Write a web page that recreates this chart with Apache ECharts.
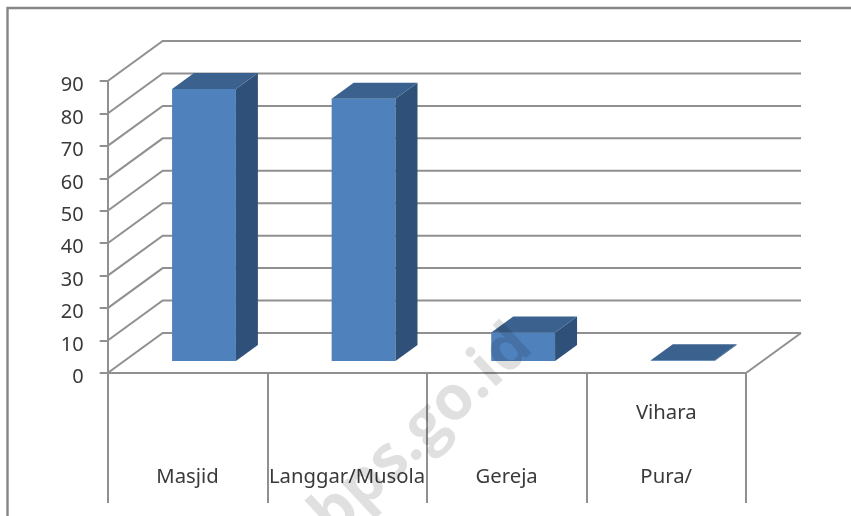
<!DOCTYPE html>
<html><head><meta charset="utf-8">
<style>html,body{margin:0;padding:0;background:#fff}#c{width:851px;height:516px}</style>
<script src="https://cdn.jsdelivr.net/npm/echarts@6/dist/echarts.min.js"></script>
</head><body><div id="c"></div>
<script>
const categories = ['Masjid', 'Langgar/Musola', 'Gereja', 'Vihara\nPura/'];
const values = [83.8, 80.8, 8.8, 0.2];
const yTicks = [0, 10, 20, 30, 40, 50, 60, 70, 80, 90];

const FONT = '"Noto Sans"';
const TXT = '#3a3a3a';
const LINE = '#909090';
const WALL = [55, -40];      // depth of the back wall
const BAR_D = [22, -16];     // depth of a bar
const BAR_O = [16.5, -12];   // bar placement inside the floor

const chart = echarts.init(document.getElementById('c'), null, {renderer: 'canvas'});

function wallItem(params, api) {
  const p = api.coord([0, api.value(1)]);
  const band = api.size([1, 0])[0];
  const x0 = p[0] - band / 2, y = p[1];
  const x1 = x0 + band * categories.length;
  const children = [{
    type: 'polyline',
    shape: {points: [[x0, y], [x0 + WALL[0], y + WALL[1]], [x1 + WALL[0], y + WALL[1]]]},
    style: {stroke: LINE, lineWidth: 2, fill: null}
  }];
  if (api.value(1) === 0) {
    children.push({
      type: 'line',
      shape: {x1: x1, y1: y, x2: x1 + WALL[0], y2: y + WALL[1]},
      style: {stroke: LINE, lineWidth: 2}
    });
  }
  return {type: 'group', children};
}

function barItem(params, api) {
  const top = api.coord([api.value(0), api.value(1)]);
  const base = api.coord([api.value(0), 0]);
  const band = api.size([1, 0])[0];
  const w = band * 0.4;
  const xl = top[0] - w / 2 + BAR_O[0], xr = xl + w;
  const yt = top[1] + BAR_O[1], yb = base[1] + BAR_O[1];
  const dx = BAR_D[0], dy = BAR_D[1];
  return {type: 'group', children: [
    {type: 'rect', shape: {x: xl, y: yt, width: w, height: yb - yt},
      style: {fill: '#4f81bd'}},
    {type: 'polygon', shape: {points: [[xr, yt], [xr + dx, yt + dy], [xr + dx, yb + dy], [xr, yb]]},
      style: {fill: '#2f5179'}},
    {type: 'polygon', shape: {points: [[xl, yt], [xl + dx, yt + dy], [xr + dx, yt + dy], [xr, yt]]},
      style: {fill: '#3b628f'}}
  ]};
}

chart.setOption({
  animation: false,
  backgroundColor: '#fff',
  grid: {left: 107.7, right: 105, top: 81, bottom: 143, containLabel: false},
  xAxis: {
    type: 'category',
    data: categories,
    boundaryGap: true,
    axisLine: {show: true, lineStyle: {color: LINE, width: 2}},
    axisTick: {show: true, length: 130, lineStyle: {color: LINE, width: 2}},
    axisLabel: {
      interval: 0,
      margin: 136,
      verticalAlign: 'bottom',
      lineHeight: 64,
      fontFamily: FONT,
      fontSize: 20.3,
      color: TXT
    },
    splitLine: {show: false}
  },
  yAxis: {
    type: 'value',
    min: 0,
    max: 90,
    interval: 10,
    axisLine: {show: true, lineStyle: {color: LINE, width: 2}},
    axisTick: {show: true, length: 8, lineStyle: {color: LINE, width: 2}},
    axisLabel: {margin: 24, fontFamily: FONT, fontSize: 20, color: TXT, verticalAlign: 'top', lineHeight: 9},
    splitLine: {show: false}
  },
  series: [
    {type: 'custom', renderItem: wallItem, clip: false, silent: true, z: 1,
      encode: {x: 0, y: 1}, data: yTicks.map(v => [0, v])},
    {type: 'custom', renderItem: barItem, clip: false, silent: true, z: 2,
      encode: {x: 0, y: 1}, data: values.map((v, i) => [i, v])}
  ],
  graphic: [
    {type: 'polyline', z: 50, silent: true,
      shape: {points: [[7.5, 516], [7.5, 8], [851, 8]]},
      style: {stroke: '#868686', lineWidth: 2.4, fill: null}},
    {type: 'text', z: 60, silent: true, x: 342, y: 548, rotation: Math.PI * 43 / 180,
      style: {text: 'bps.go.id', fontFamily: '"Open Sans"', fontWeight: 'bold', fontSize: 62,
        fill: 'rgba(0,0,0,0.12)', textAlign: 'left', textVerticalAlign: 'bottom'}}
  ]
});
</script></body></html>
